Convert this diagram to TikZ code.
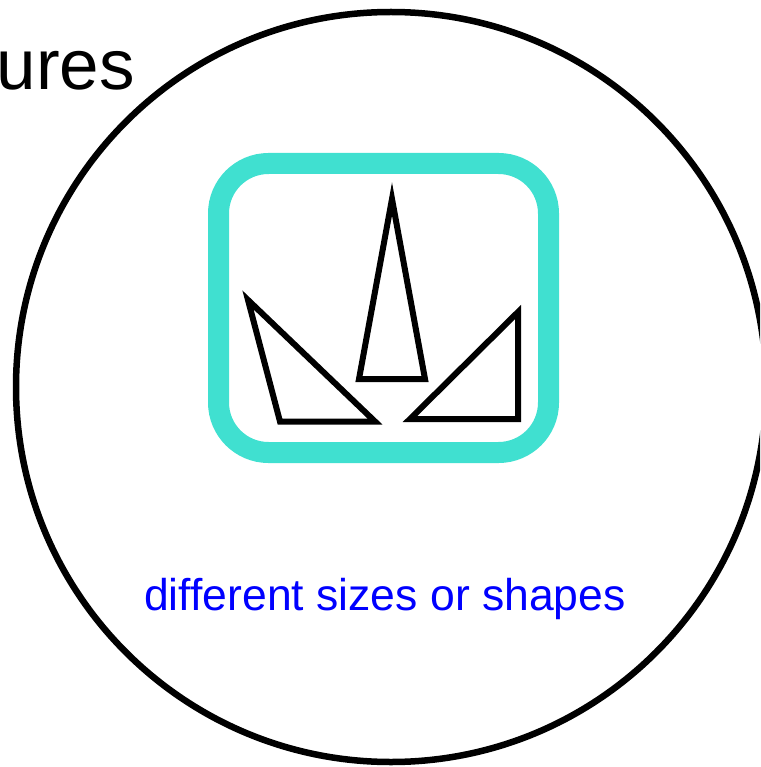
\documentclass[tikz,border=0pt]{standalone}
\usepackage{fontspec}
\setmainfont{Liberation Sans}
\definecolor{turq}{RGB}{64,224,208}
\begin{document}
\begin{tikzpicture}[x=1pt,y=-1pt,
  tri/.style={draw=black,line width=6pt,line join=miter}]
\useasboundingbox (0,0) rectangle (760,767);
\begin{scope}
\clip (0,0) rectangle (760,767);
\draw[line width=6.5pt] (391,387) circle (375);
\node[anchor=base east,inner sep=0pt,font=\fontsize{71}{84}\selectfont] (t1) at (135,90) {ures};
\end{scope}
\draw[turq,line width=21pt,rounded corners=50pt] (218.5,163.5) rectangle (548.5,452.5);
\draw[tri] (248,300) -- (280,421.5) -- (375,421.5) -- cycle;
\draw[tri] (392,199) -- (359,379) -- (425,379) -- cycle;
\draw[tri] (518,312) -- (410,419) -- (518,419) -- cycle;
\node[anchor=base,inner sep=0pt,text=blue,font=\fontsize{44.5}{52}\selectfont] (t2) at (385,610) {different sizes or shapes};
\end{tikzpicture}
\end{document}
